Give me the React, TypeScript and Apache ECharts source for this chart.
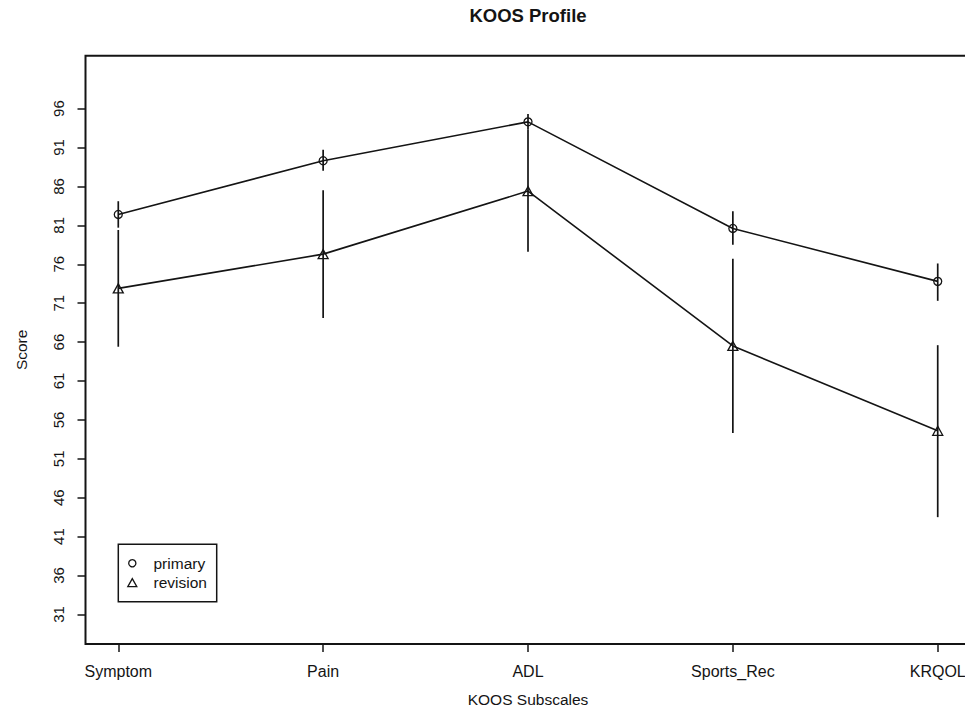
import React, { useEffect, useRef } from "react";
import * as echarts from "echarts";

const categories = ["Symptom", "Pain", "ADL", "Sports_Rec", "KRQOL"];
const yTicks = [31, 36, 41, 46, 51, 56, 61, 66, 71, 76, 81, 86, 91, 96];
const xPositions = [1, 2, 3, 4, 5];

const primaryMean = [82.4, 89.3, 94.3, 80.6, 73.8];
const primaryLower = [80.7, 88.0, 93.3, 78.5, 71.3];
const primaryUpper = [84.1, 90.7, 95.3, 82.8, 76.1];

const revisionMean = [72.9, 77.3, 85.4, 65.5, 54.6];
const revisionLower = [65.4, 69.1, 77.6, 54.3, 43.5];
const revisionUpper = [80.4, 85.5, 93.3, 76.7, 65.6];

const FONT = "'Liberation Sans', Arial, Helvetica, sans-serif";
const INK = "#141414";

export default function App() {
  const ref = useRef<HTMLDivElement>(null);

  useEffect(() => {
    if (!ref.current) return;
    const chart = echarts.init(ref.current, undefined, { renderer: "svg" });

    const errRender = (params: any, api: any) => {
      const x = api.value(0);
      const lo = api.coord([x, api.value(1)]);
      const hi = api.coord([x, api.value(2)]);
      return {
        type: "line",
        shape: { x1: lo[0], y1: lo[1], x2: hi[0], y2: hi[1] },
        style: { stroke: INK, lineWidth: 1.7 },
      };
    };

    chart.setOption({
      animation: false,
      backgroundColor: "#ffffff",
      textStyle: { fontFamily: FONT, color: INK },
      title: {
        text: "KOOS Profile",
        left: 528,
        textAlign: "center",
        top: 6,
        padding: 0,
        textStyle: { fontFamily: FONT, fontSize: 18.5, fontWeight: "bold", color: INK },
      },
      grid: {
        left: 85.5,
        top: 55.7,
        width: 885,
        height: 588.3,
        outerBoundsMode: "none",
        containLabel: false,
        show: true,
        borderColor: INK,
        borderWidth: 2,
        backgroundColor: "transparent",
      },
      xAxis: {
        type: "value",
        min: 0.84,
        max: 5.16,
        name: "KOOS Subscales",
        nameLocation: "middle",
        nameGap: 47,
        nameTextStyle: { fontFamily: FONT, fontSize: 15.5, color: INK },
        axisLine: { show: false },
        splitLine: { show: false },
        axisTick: {
          show: true,
          length: 8,
          customValues: xPositions,
          lineStyle: { color: INK, width: 1.5 },
        },
        axisLabel: {
          customValues: xPositions,
          margin: 19,
          fontFamily: FONT,
          fontSize: 16,
          color: INK,
          formatter: (v: number) => categories[Math.round(v) - 1] ?? "",
        },
      },
      yAxis: {
        type: "value",
        min: 27.2,
        max: 102.8,
        name: "Score",
        nameLocation: "middle",
        nameRotate: 90,
        nameGap: 56,
        nameTextStyle: { fontFamily: FONT, fontSize: 15.5, color: INK },
        axisLine: { show: false },
        splitLine: { show: false },
        axisTick: {
          show: true,
          length: 8,
          customValues: yTicks,
          lineStyle: { color: INK, width: 1.5 },
        },
        axisLabel: {
          customValues: yTicks,
          rotate: 90,
          margin: 20,
          fontFamily: FONT,
          fontSize: 15,
          color: INK,
        },
      },
      series: [
        {
          name: "primary-err",
          type: "custom",
          renderItem: errRender,
          encode: { x: 0, y: [1, 2] },
          data: xPositions.map((x, i) => [x, primaryLower[i], primaryUpper[i]]),
          z: 2,
          silent: true,
        },
        {
          name: "revision-err",
          type: "custom",
          renderItem: errRender,
          encode: { x: 0, y: [1, 2] },
          data: xPositions.map((x, i) => [x, revisionLower[i], revisionUpper[i]]),
          z: 2,
          silent: true,
        },
        {
          name: "primary",
          type: "line",
          data: xPositions.map((x, i) => [x, primaryMean[i]]),
          symbol: "circle",
          symbolSize: 8,
          lineStyle: { color: INK, width: 1.6 },
          itemStyle: { color: "rgba(255,255,255,0)", borderColor: INK, borderWidth: 1.3 },
          z: 3,
        },
        {
          name: "revision",
          type: "line",
          data: xPositions.map((x, i) => [x, revisionMean[i]]),
          symbol: "triangle",
          symbolSize: [10, 9],
          lineStyle: { color: INK, width: 1.6 },
          itemStyle: { color: "rgba(255,255,255,0)", borderColor: INK, borderWidth: 1.3 },
          z: 3,
        },
      ],
      graphic: [
        {
          type: "rect",
          shape: { x: 118.3, y: 544.3, width: 98.4, height: 57.4 },
          style: { fill: "none", stroke: INK, lineWidth: 1.5 },
        },
        {
          type: "circle",
          shape: { cx: 132.3, cy: 563.3, r: 3.6 },
          style: { fill: "none", stroke: INK, lineWidth: 1.3 },
        },
        {
          type: "polygon",
          shape: { points: [[127.8, 586.6], [136.8, 586.6], [132.3, 578.6]] },
          style: { fill: "none", stroke: INK, lineWidth: 1.3 },
        },
        {
          type: "text",
          x: 153.5,
          y: 563.3,
          style: { text: "primary", fontFamily: FONT, fontSize: 15.5, fill: INK, verticalAlign: "middle" },
        },
        {
          type: "text",
          x: 153.5,
          y: 582.7,
          style: { text: "revision", fontFamily: FONT, fontSize: 15.5, fill: INK, verticalAlign: "middle" },
        },
      ],
    });

    return () => chart.dispose();
  }, []);

  return (
    <div
      ref={ref}
      style={{ position: "fixed", left: 0, top: 0, width: 965, height: 711, background: "#fff" }}
    />
  );
}
